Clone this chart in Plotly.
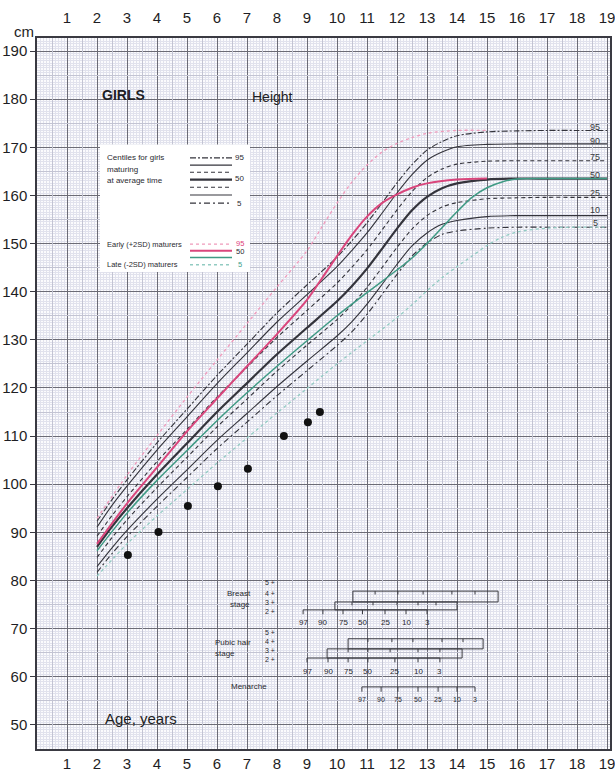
import plotly.graph_objects as go

# ---------------- data ----------------
ages = [2, 2.5, 3, 4, 5, 6, 7, 8, 9, 10, 10.5, 11, 11.5, 12, 12.5, 13, 13.5, 14, 15, 16, 17, 18, 19]
c95 = [92.3, 96.8, 100.9, 108.6, 115.6, 122.6, 129.1, 135.6, 141.4, 147.2, 150.6, 154.3, 158.4, 162.6, 166.4, 169.4, 171.2, 172.4, 173.2, 173.4, 173.5, 173.5, 173.5]
c90 = [91.1, 95.6, 99.6, 107.1, 114.0, 120.9, 127.3, 133.7, 139.4, 145.2, 148.6, 152.2, 156.3, 160.5, 164.3, 167.3, 169.0, 170.1, 170.6, 170.7, 170.7, 170.7, 170.7]
c75 = [89.2, 93.5, 97.4, 104.7, 111.4, 118.1, 124.3, 130.5, 136.1, 141.8, 145.1, 148.7, 152.8, 157.0, 160.8, 163.7, 165.5, 166.5, 167.1, 167.2, 167.2, 167.2, 167.2]
c50 = [87.0, 91.2, 95.0, 102.0, 108.5, 115.0, 121.0, 127.0, 132.5, 138.0, 141.2, 144.8, 148.9, 153.1, 156.9, 159.7, 161.5, 162.5, 163.3, 163.5, 163.5, 163.5, 163.5]
c25 = [84.8, 88.9, 92.6, 99.3, 105.6, 111.9, 117.7, 123.5, 128.9, 134.2, 137.3, 140.9, 145.0, 149.2, 153.0, 155.8, 157.6, 158.5, 159.3, 159.5, 159.6, 159.6, 159.6]
c10 = [82.9, 86.8, 90.4, 96.9, 103.0, 109.1, 114.7, 120.3, 125.6, 130.8, 133.8, 137.4, 141.5, 145.7, 149.5, 152.2, 154.0, 154.8, 155.6, 155.8, 155.8, 155.8, 155.8]
c5 = [81.7, 85.6, 89.1, 95.4, 101.4, 107.4, 112.9, 118.4, 123.6, 128.8, 131.7, 135.3, 139.4, 143.6, 147.4, 150.1, 151.9, 152.6, 153.2, 153.4, 153.4, 153.4, 153.4]

early_ages = [2, 3, 4, 5, 6, 7, 8, 9, 9.5, 10, 10.5, 11, 11.5, 12, 12.5, 13, 14, 15]
early50 = [87.6, 96.0, 103.5, 111.0, 117.8, 124.5, 131.2, 138.3, 142.8, 147.4, 151.8, 155.6, 158.4, 160.2, 161.6, 162.5, 163.3, 163.5]
early95 = [92.9, 101.9, 110.1, 118.1, 125.8, 133.4, 141.0, 148.5, 153.5, 158.4, 162.8, 166.3, 169.0, 170.8, 172.0, 172.9, 173.5, 173.5]

late_ages = [2, 3, 4, 5, 6, 7, 8, 9, 10, 11, 12, 12.5, 13, 13.5, 14, 14.5, 15, 15.5, 16, 17, 18, 19]
late50 = [86.2, 94.0, 100.8, 107.0, 113.2, 119.0, 124.5, 129.8, 135.0, 139.8, 144.5, 147.0, 150.0, 153.3, 156.6, 159.6, 161.6, 162.8, 163.4, 163.5, 163.5, 163.5]
late5 = [80.9, 87.6, 93.4, 98.9, 104.4, 109.6, 114.8, 119.9, 125.0, 129.8, 134.6, 137.3, 140.2, 142.9, 145.2, 147.4, 149.6, 151.3, 152.4, 153.2, 153.4, 153.4]

child_ages = [3.03, 4.05, 5.03, 6.03, 7.03, 8.23, 9.03, 9.43]
child_heights = [85.3, 90.1, 95.5, 99.6, 103.2, 110.0, 112.9, 115.0]

centile_labels = ["97", "90", "75", "50", "25", "10", "3"]
breast_stage2 = [8.87, 9.53, 10.2, 10.85, 11.6, 12.3, 13.0]
breast_stage3 = [9.93, 10.5, 11.2, 12.0, 12.7, 13.3, 14.0]
breast_stage4 = [10.53, 11.27, 12.03, 12.87, 13.83, 14.6, 15.37]
pubic_stage2 = [9.0, 9.7, 10.37, 11.03, 11.93, 12.7, 13.43]
pubic_stage3 = [9.67, 10.37, 11.03, 11.77, 12.7, 13.43, 14.17]
pubic_stage4 = [10.37, 11.03, 11.83, 12.53, 13.5, 14.2, 14.87]
menarche_ages = [10.83, 11.47, 12.03, 12.7, 13.37, 14.0, 14.6]

year_ticks = list(range(1, 20))
cm_ticks = list(range(50, 200, 10))
right_labels = ["95", "90", "75", "50", "25", "10", "5"]

# ---------------- figure ----------------
FONT = "Liberation Sans, Arial, sans-serif"
INK = "#2a2a30"
SM = 0.8
fig = go.Figure()

avg = [(c95, "95", "6px,2px,2px,2px", 1.1),
       (c90, "90", "solid", 1.1),
       (c75, "75", "4px,3px", 1.1),
       (c50, "50", "solid", 2.2),
       (c25, "25", "4px,3px", 1.1),
       (c10, "10", "solid", 1.1),
       (c5, "5", "6px,3px,2px,3px", 1.1)]
for vals, name, dash, w in avg:
    fig.add_trace(go.Scatter(x=ages, y=vals, mode="lines", name=name,
                             line=dict(color="#34343c", width=w, dash=dash,
                                       shape="spline", smoothing=SM),
                             hoverinfo="skip", showlegend=False))

fig.add_trace(go.Scatter(x=early_ages, y=early95, mode="lines",
                         line=dict(color="#f09abb", width=1.3, dash="dot", shape="spline", smoothing=SM),
                         showlegend=False, hoverinfo="skip"))
fig.add_trace(go.Scatter(x=early_ages, y=early50, mode="lines",
                         line=dict(color="#d9467c", width=2, shape="spline", smoothing=SM),
                         showlegend=False, hoverinfo="skip"))
fig.add_trace(go.Scatter(x=late_ages, y=late5, mode="lines",
                         line=dict(color="#92cbc2", width=1.3, dash="dot", shape="spline", smoothing=SM),
                         showlegend=False, hoverinfo="skip"))
fig.add_trace(go.Scatter(x=late_ages, y=late50, mode="lines",
                         line=dict(color="#3f9a84", width=1.5, shape="spline", smoothing=SM),
                         showlegend=False, hoverinfo="skip"))

fig.add_trace(go.Scatter(x=child_ages, y=child_heights, mode="markers",
                         marker=dict(color="#111", size=8), showlegend=False, hoverinfo="skip"))


# ---------------- maturity diagrams ----------------
def stage_box(agesl, top, bottom, tick_len):
    xs, ys = [], []
    xs += [agesl[0], agesl[-1], None]; ys += [top, top, None]
    if bottom is not None:
        xs += [agesl[0], agesl[-1], None]; ys += [bottom, bottom, None]
        xs += [agesl[0], agesl[0], None, agesl[-1], agesl[-1], None]
        ys += [top, bottom, None, top, bottom, None]
        for a in agesl[1:-1]:
            xs += [a, a, None]; ys += [top, top - tick_len, None]
    else:
        for a in agesl:
            xs += [a, a, None]; ys += [top, top - tick_len, None]
    fig.add_trace(go.Scatter(x=xs, y=ys, mode="lines", line=dict(color="#3a3a40", width=1),
                             showlegend=False, hoverinfo="skip"))

stage_box(breast_stage4, 77.8, 75.55, 0.7)
stage_box(breast_stage3, 75.55, 73.9, 0.7)
stage_box(breast_stage2, 73.9, None, 0.9)
stage_box(pubic_stage4, 67.9, 65.8, 0.7)
stage_box(pubic_stage3, 65.8, 63.9, 0.7)
stage_box(pubic_stage2, 63.9, None, 0.9)
stage_box(menarche_ages, 57.9, None, 1.0)

ann = []
def txt(x, y, s, size=8, color=INK, xanchor="center", bold=False, xref="x", yref="y"):
    ann.append(dict(x=x, y=y, xref=xref, yref=yref, text=("<b>%s</b>" % s) if bold else s,
                    showarrow=False, xanchor=xanchor, yanchor="middle",
                    font=dict(family=FONT, size=size, color=color)))

for a, lab in zip(breast_stage2, centile_labels):
    txt(a, 71.2, lab, size=8)
for a, lab in zip(pubic_stage2, centile_labels):
    txt(a, 61.0, lab, size=8)
for a, lab in zip(menarche_ages, centile_labels):
    txt(a, 55.2, lab, size=7)

for y, s in zip([79.5, 77.4, 75.5, 73.5], ["5 +", "4 +", "3 +", "2 +"]):
    txt(7.75, y, s, size=7)
for y, s in zip([69.3, 67.3, 65.4, 63.5], ["5 +", "4 +", "3 +", "2 +"]):
    txt(7.75, y, s, size=7)
txt(6.25, 77.4, "Breast", size=8, xanchor="left")
txt(6.35, 75.1, "stage", size=8, xanchor="left")
txt(5.85, 67.1, "Pubic hair", size=8, xanchor="left")
txt(5.85, 64.8, "stage", size=8, xanchor="left")
txt(6.4, 57.9, "Menarche", size=8, xanchor="left")

# titles
txt(2.1, 180.9, "GIRLS", size=14, xanchor="left", bold=True, color="#1e1e24")
txt(7.1, 180.5, "Height", size=14, xanchor="left", color="#1e1e24")
txt(2.2, 51.4, "Age, years", size=15, xanchor="left", color="#1e1e24")
ann.append(dict(x=0.0, y=1.0, xref="paper", yref="paper", text="cm", showarrow=False,
                xanchor="right", yanchor="bottom", xshift=-1, yshift=-4,
                font=dict(family=FONT, size=15, color="#1e1e24")))

# right-hand centile labels
for y, s in zip([174.3, 171.3, 168.0, 164.3, 160.5, 156.9, 154.2], right_labels):
    txt(18.6, y, s, size=9, color="#3a3a40")

# ---------------- legend box ----------------
shapes = []
shapes.append(dict(type="rect", xref="x", yref="y", x0=2.1, x1=7.1, y0=144.1, y1=170.6,
                   fillcolor="white", line=dict(width=0), layer="above"))
leg_y = [167.8, 166.3, 164.8, 163.3, 161.7, 160.1, 158.4]
for yy, (_, _, dash, w) in zip(leg_y, avg):
    shapes.append(dict(type="line", xref="x", yref="y", x0=5.1, x1=6.5, y0=yy, y1=yy,
                       line=dict(color="#34343c", width=w, dash=dash), layer="above"))
shapes.append(dict(type="line", xref="x", yref="y", x0=5.1, x1=6.5, y0=149.9, y1=149.9,
                   line=dict(color="#f09abb", width=1.3, dash="dot"), layer="above"))
shapes.append(dict(type="line", xref="x", yref="y", x0=5.1, x1=6.5, y0=148.5, y1=148.5,
                   line=dict(color="#d9467c", width=2), layer="above"))
shapes.append(dict(type="line", xref="x", yref="y", x0=5.1, x1=6.5, y0=147.1, y1=147.1,
                   line=dict(color="#3f9a84", width=1.5), layer="above"))
shapes.append(dict(type="line", xref="x", yref="y", x0=5.1, x1=6.5, y0=145.6, y1=145.6,
                   line=dict(color="#92cbc2", width=1.3, dash="dot"), layer="above"))

txt(2.25, 167.8, "Centiles for girls", size=8, xanchor="left")
txt(2.25, 165.4, "maturing", size=8, xanchor="left")
txt(2.25, 163.0, "at average time", size=8, xanchor="left")
txt(6.75, 167.8, "95", size=8)
txt(6.75, 163.6, "50", size=8)
txt(6.75, 158.4, "5", size=8)
txt(2.25, 149.8, "Early (+2SD) maturers", size=7.5, xanchor="left")
txt(2.25, 145.6, "Late (-2SD) maturers", size=7.5, xanchor="left")
txt(6.75, 150.1, "95", size=7.5, color="#e0407a")
txt(6.75, 148.3, "50", size=7.5, color=INK)
txt(6.75, 145.6, "5", size=7.5, color="#3fa08a")

# ---------------- axes ----------------
XR = [0, 19.1]
YR = [45.0, 192.7]
TICKFONT = dict(size=15, family=FONT, color="#1e1e24")
MINOR_C = "#e1e2ed"
MID_C = "#c3c4d3"
MAJOR_C = "#6c6c76"
fig.update_layout(
    width=615, height=772,
    margin=dict(l=37, r=5, t=38, b=23, autoexpand=False),
    paper_bgcolor="white", plot_bgcolor="#fbfbfd",
    font=dict(family=FONT, color="#1e1e24"),
    showlegend=False,
    annotations=ann, shapes=shapes,
    xaxis=dict(range=XR, tickmode="array", tickvals=year_ticks, ticktext=[str(v) for v in year_ticks],
               showgrid=True, gridcolor=MAJOR_C, gridwidth=1, automargin=False,
               minor=dict(tickmode="linear", tick0=0, dtick=0.1, showgrid=True, gridcolor=MINOR_C, gridwidth=1),
               showline=True, linecolor="#3a3a42", linewidth=1.5, mirror=True,
               ticks="", tickfont=TICKFONT, zeroline=False, ticklabeloverflow="allow"),
    xaxis2=dict(range=XR, overlaying="x", side="top", anchor="y", tickmode="array", tickvals=year_ticks,
                ticktext=[str(v) for v in year_ticks], showgrid=False, ticks="", zeroline=False,
                automargin=False, ticklabelstandoff=11, tickfont=TICKFONT, ticklabeloverflow="allow"),
    xaxis3=dict(range=XR, overlaying="x", anchor="y", tickmode="linear", tick0=0.5, dtick=1,
                showticklabels=False, showgrid=True, gridcolor=MID_C, gridwidth=1, zeroline=False,
                automargin=False),
    yaxis=dict(range=YR, tickmode="array", tickvals=cm_ticks, ticktext=[str(v) for v in cm_ticks],
               showgrid=True, gridcolor=MAJOR_C, gridwidth=1, automargin=False,
               minor=dict(tickmode="linear", tick0=0, dtick=0.5, showgrid=True, gridcolor=MINOR_C, gridwidth=1),
               showline=True, linecolor="#3a3a42", linewidth=1.5, mirror=True,
               ticks="outside", ticklen=5, tickcolor="#3a3a42",
               tickfont=TICKFONT, zeroline=False),
    yaxis2=dict(range=YR, overlaying="y", anchor="x", tickmode="linear", tick0=55, dtick=10,
                showticklabels=False, showgrid=True, gridcolor=MID_C, gridwidth=1, zeroline=False,
                automargin=False),
)
fig.add_trace(go.Scatter(x=[None], y=[None], xaxis="x2", yaxis="y", showlegend=False, hoverinfo="skip"))
fig.add_trace(go.Scatter(x=[None], y=[None], xaxis="x3", yaxis="y2", showlegend=False, hoverinfo="skip"))

fig.write_html("out.html", config={"displayModeBar": False},
               post_script="document.body.style.margin='0px';document.body.style.padding='0px';"
                           "document.documentElement.style.overflow='hidden';")
